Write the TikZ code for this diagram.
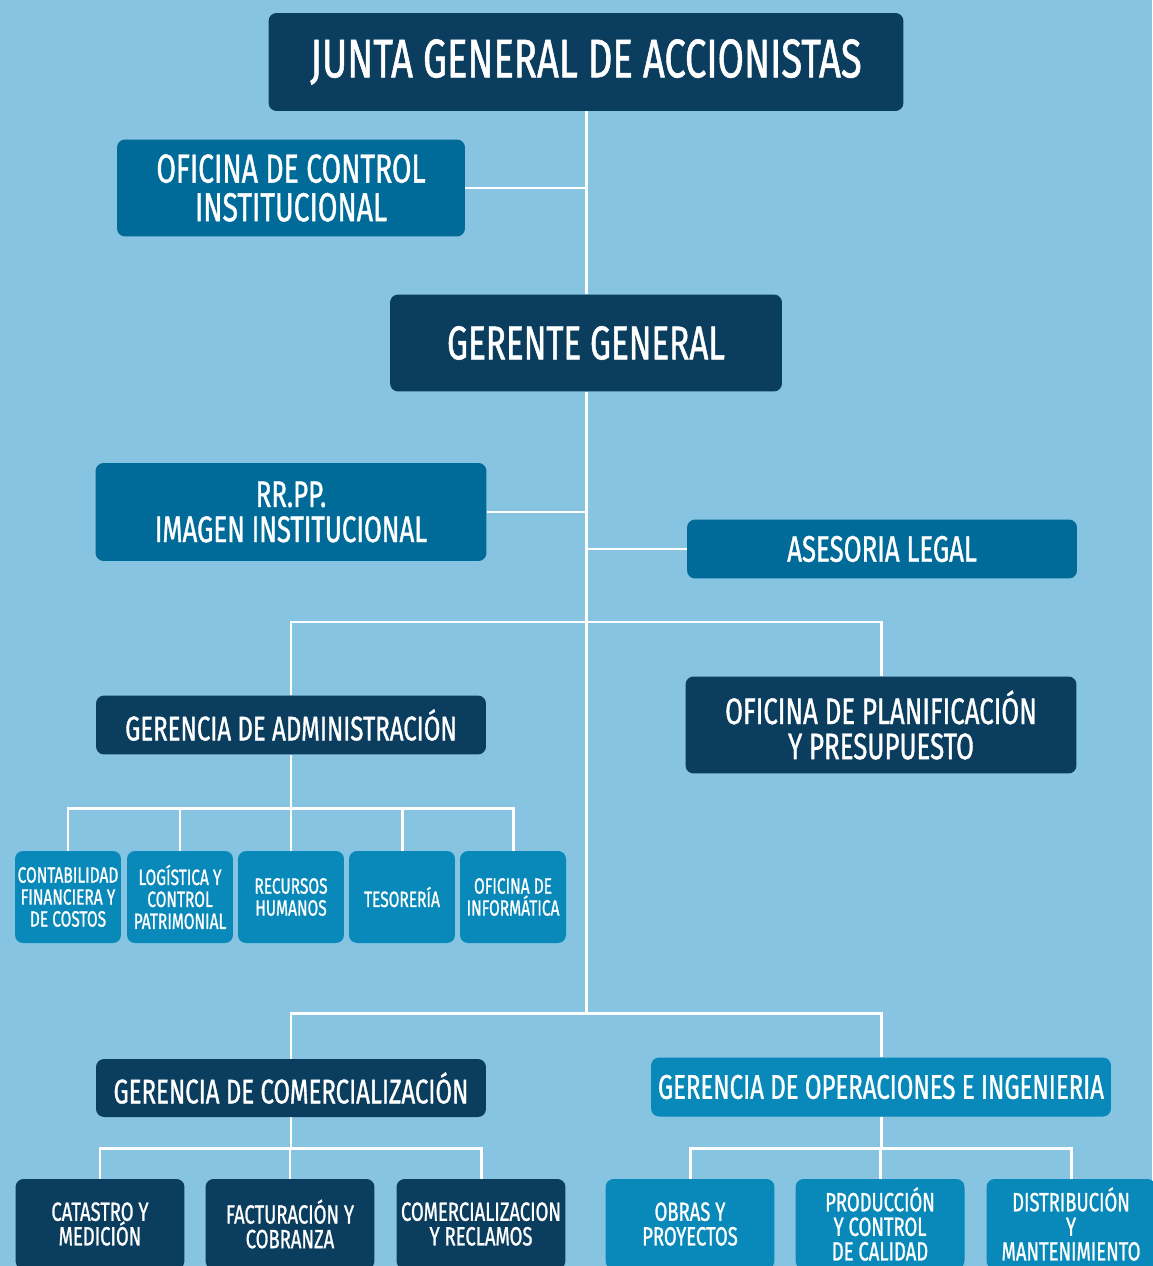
\documentclass[tikz,border=0pt]{standalone}
\usepackage{fontspec}
\setmainfont{Fira Sans}[FakeStretch=0.7, FakeBold=1]
\usetikzlibrary{backgrounds}
\definecolor{fondo}{HTML}{86C4E2}
\definecolor{marino}{HTML}{0B3D5E}
\definecolor{azul}{HTML}{006B99}
\definecolor{celeste}{HTML}{0889B9}
\newcommand{\tam}[2]{\fontsize{#1}{#2}\selectfont}

\begin{document}
\begin{tikzpicture}[x=0.02cm,y=-0.02cm,
	caja/.style={rounded corners=0.16cm, text=white, align=center, inner sep=0pt},
	linea/.style={draw=white, line width=1.7pt}]
	\useasboundingbox (0,0) rectangle (1152,1266);

	% niveles de direccion
	\node[caja, fill=marino, minimum width=12.7cm, minimum height=1.96cm, font=\tam{31}{32}] (junta) at (586,62) {JUNTA GENERAL DE ACCIONISTAS};
	\node[caja, fill=azul, minimum width=6.96cm, minimum height=1.94cm, font=\tam{23}{22}] (oci) at (291,188) {OFICINA DE CONTROL\\INSTITUCIONAL};
	\node[caja, fill=marino, minimum width=7.84cm, minimum height=1.94cm, font=\tam{27}{28}] (gg) at (586,343) {GERENTE GENERAL};
	\node[caja, fill=azul, minimum width=7.82cm, minimum height=1.96cm, font=\tam{21}{20}] (rrpp) at (291,512) {RR.PP.\\IMAGEN INSTITUCIONAL};
	\node[caja, fill=azul, minimum width=7.8cm, minimum height=1.18cm, font=\tam{21}{22}] (legal) at (882,549) {ASESORIA LEGAL};
	\node[caja, fill=marino, minimum width=7.8cm, minimum height=1.18cm, font=\tam{19.5}{20}] (gadm) at (291,725) {GERENCIA DE ADMINISTRACIÓN};
	\node[caja, fill=marino, minimum width=7.82cm, minimum height=1.94cm, font=\tam{21}{20}] (opp) at (881,725) {OFICINA DE PLANIFICACIÓN\\Y PRESUPUESTO};
	\node[caja, fill=marino, minimum width=7.8cm, minimum height=1.16cm, font=\tam{19.5}{20}] (gcom) at (291,1088) {GERENCIA DE COMERCIALIZACIÓN};
	\node[caja, fill=celeste, minimum width=9.2cm, minimum height=1.18cm, font=\tam{19.5}{20}] (gop) at (881,1087) {GERENCIA DE OPERACIONES E INGENIERIA};

	% areas de administracion
	\begin{scope}[every node/.style={caja, fill=celeste, minimum width=2.12cm, minimum height=1.84cm, font=\tam{12.6}{12.5}}]
		\foreach \x/\t [count=\i] in {68/{CONTABILIDAD\\FINANCIERA Y\\DE COSTOS}, 180/{LOGÍSTICA Y\\CONTROL\\PATRIMONIAL}, 291/{RECURSOS\\HUMANOS}, 402/{TESORERÍA}, 513/{OFICINA DE\\INFORMÁTICA}}
			\node (adm\i) at (\x,897) {\t};
	\end{scope}

	% areas comerciales y de operaciones
	\begin{scope}[every node/.style={caja, minimum width=3.38cm, minimum height=1.8cm, font=\tam{15}{14}}]
		\foreach \x/\t [count=\i] in {100/{CATASTRO Y\\MEDICIÓN}, 290/{FACTURACIÓN Y\\COBRANZA}, 481/{COMERCIALIZACION\\Y RECLAMOS}}
			\node[fill=marino] (com\i) at (\x,1224) {\t};
		\foreach \x/\t [count=\i] in {690/{OBRAS Y\\PROYECTOS}, 880/{PRODUCCIÓN\\Y CONTROL\\DE CALIDAD}, 1071/{DISTRIBUCIÓN\\Y\\MANTENIMIENTO}}
			\node[fill=celeste] (op\i) at (\x,1224) {\t};
	\end{scope}

	\coordinate (b1) at (586,622);
	\coordinate (b2) at (586,1013);
	\coordinate (b3) at (291,808);
	\coordinate (b4) at (291,1148);
	\coordinate (b5) at (881,1148);

	\begin{scope}[on background layer]
		\fill[fondo] (0,0) rectangle (1152,1266);
		\begin{scope}[linea]
			\draw (junta) -- (gg);
			\draw (oci) -- (oci -| junta);
			\draw (rrpp) -- (rrpp -| gg);
			\draw (legal) -- (legal -| gg);
			\draw (gg) -- (b2);
			\draw (gadm) |- (b1) -| (opp);
			\draw (gcom) |- (b2) -| (gop);
			\draw (gadm) -- (b3);
			\foreach \i in {1,...,5}
				\draw (b3) -| (adm\i);
			\draw (gcom) -- (b4);
			\draw (gop) -- (b5);
			\foreach \i in {1,2,3}{
				\draw (b4) -| (com\i);
				\draw (b5) -| (op\i);
			}
		\end{scope}
	\end{scope}
\end{tikzpicture}
\end{document}
